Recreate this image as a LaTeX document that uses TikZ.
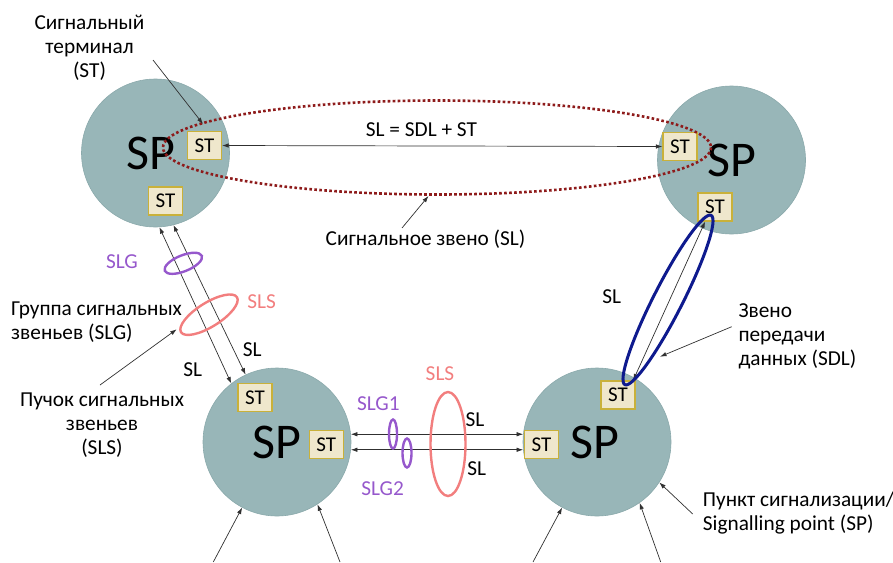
\documentclass[tikz,border=0pt]{standalone}
\usepackage{fontspec}
\setmainfont{Carlito}
\usetikzlibrary{arrows.meta}
\definecolor{spfill}{HTML}{98B6B8}
\definecolor{spedge}{HTML}{8AA9AB}
\definecolor{stfill}{HTML}{EFE7CC}
\definecolor{stedge}{HTML}{C9B13A}
\definecolor{slred}{HTML}{8E1B1B}
\definecolor{sdlblue}{HTML}{0E1A8E}
\definecolor{slgpurple}{HTML}{9658CC}
\definecolor{slspink}{HTML}{F27E7E}
\definecolor{linkgray}{HTML}{303030}
\begin{document}
\begin{tikzpicture}[x=1pt,y=-1pt,
  spnode/.style={circle, fill=spfill, draw=spedge, line width=0.6pt, minimum size=148pt, inner sep=0pt},
  sptext/.style={inner sep=0pt, font=\fontsize{50}{50}\selectfont},
  stbox/.style={rectangle, fill=stfill, draw=stedge, line width=1.3pt, minimum width=34pt, minimum height=28pt, inner sep=0pt, font=\fontsize{21}{21}\selectfont},
  lbl/.style={inner sep=0pt, font=\fontsize{21.3}{23.8}\selectfont},
  tip/.tip={Latex[length=6.5pt,width=4.5pt]},
  link/.style={draw=linkgray, line width=0.7pt, tip-tip},
  pointer/.style={draw=linkgray, line width=0.7pt, -tip},
  ring/.style={line width=2.4pt},
]
\useasboundingbox (0,0) rectangle (893,562);

% signalling points
\node[spnode, label={[sptext, xshift=-5pt]center:SP}] (spA) at (155.5,153) {};
\node[spnode, label={[sptext]center:SP}] (spB) at (731.5,160) {};
\node[spnode, label={[sptext]center:SP}] (spC) at (277,442) {};
\node[spnode, label={[sptext, xshift=-2pt]center:SP}] (spD) at (597,442) {};

% signalling terminals
\node[stbox] (stA1) at (204.5,145.5) {ST};
\node[stbox] (stA2) at (165.5,201) {ST};
\node[stbox] (stB1) at (680,146.5) {ST};
\node[stbox] (stB2) at (715,207) {ST};
\node[stbox] (stC1) at (255,397.5) {ST};
\node[stbox] (stC2) at (326.3,444.5) {ST};
\node[stbox] (stD1) at (618,395) {ST};
\node[stbox] (stD2) at (541.5,444.5) {ST};

% signalling links
\draw[link] (stA1.east) -- (stB1.west);
\draw[link] (spA.-87) -- (spC.128);
\draw[link] (spA.-76) -- (spC.115);
\draw[link] (spC.6) -- (spD.174);
\draw[link] (spC.-6) -- (spD.186);
\draw[link] (stB2.-124) -- (stD1.44);

% links arriving from below
\coordinate (inC1) at (213.3,562);
\coordinate (inC2) at (340,562);
\coordinate (inD1) at (533,562);
\coordinate (inD2) at (660.7,562);
\draw[pointer] (inC1) -- (spC.-118);
\draw[pointer] (inC2) -- (spC.-57);
\draw[pointer] (inD1) -- (spD.-118);
\draw[pointer] (inD2) -- (spD.-55);

% labels (multi-line labels are anchored at the baseline of their last line)
\node[lbl, align=center, anchor=base] (tST) at (89.5,77) {Сигнальный\\терминал\\(ST)};
\node[lbl, anchor=base] (tEq) at (421.5,136.5) {SL = SDL + ST};
\node[lbl, anchor=base] (tSL) at (425.5,245) {Сигнальное звено (SL)};
\node[lbl, align=left, anchor=base west] (tSLG) at (11,339) {Группа сигнальных\\звеньев (SLG)};
\node[lbl, align=center, anchor=base] (tSLS) at (102,454) {Пучок сигнальных\\звеньев\\(SLS)};
\node[lbl, text=slgpurple, anchor=base] (tG) at (122,268.5) {SLG};
\node[lbl, text=slspink, anchor=base] (tS) at (261.7,308) {SLS};
\node[lbl, anchor=base] (tL1) at (252.3,356) {SL};
\node[lbl, anchor=base] (tL2) at (192.7,376.7) {SL};
\node[lbl, text=slgpurple, anchor=base] (tG1) at (378.3,410.7) {SLG1};
\node[lbl, text=slgpurple, anchor=base] (tG2) at (382.7,495) {SLG2};
\node[lbl, text=slspink, anchor=base] (tS2) at (440,380.7) {SLS};
\node[lbl, anchor=base] (tL3) at (475,426.7) {SL};
\node[lbl, anchor=base] (tL4) at (476.7,475) {SL};
\node[lbl, anchor=base] (tL5) at (611.7,303.4) {SL};
\node[lbl, align=left, anchor=base west] (tSDL) at (738.3,365) {Звено\\передачи\\данных (SDL)};
\node[lbl, align=left, anchor=base west] (tSP) at (702.7,530.5) {Пункт сигнализации/\\Signalling point (SP)};

% groupings
\draw[slred, line width=2.6pt, dash pattern=on 2.6pt off 2.4pt] (437,147.5) ellipse [x radius=274, y radius=47];
\draw[ring, slgpurple, rotate around={22:(183.3,263.3)}] (183.3,263.3) ellipse [x radius=20, y radius=8];
\draw[ring, slspink, rotate around={32:(209,314.7)}] (209,314.7) ellipse [x radius=33, y radius=12];
\draw[ring, slgpurple] (393,434) ellipse [x radius=4, y radius=14.5];
\draw[ring, slgpurple] (407,453) ellipse [x radius=4.5, y radius=14.5];
\draw[ring, slspink] (448,444) ellipse [x radius=17.5, y radius=52];
\draw[line width=3pt, sdlblue, rotate around={63:(668,300)}] (668,300) ellipse [x radius=95, y radius=14.5];

% pointers from the captions
\coordinate (pST0) at (153,60);
\coordinate (pST1) at (203,124);
\coordinate (pSL0) at (402,228);
\coordinate (pSL1) at (428.5,196);
\coordinate (pSLS0) at (100,385);
\coordinate (pSLS1) at (176.7,329.3);
\coordinate (pSDL0) at (731.7,326.7);
\coordinate (pSDL1) at (660,356.7);
\coordinate (pSP0) at (692.7,514);
\draw[pointer] (pST0) -- (pST1);
\draw[pointer] (pSL0) -- (pSL1);
\draw[pointer] (pSLS0) -- (pSLS1);
\draw[pointer] (pSDL0) -- (pSDL1);
\draw[pointer] (pSP0) -- (spD.-33);
\end{tikzpicture}
\end{document}
